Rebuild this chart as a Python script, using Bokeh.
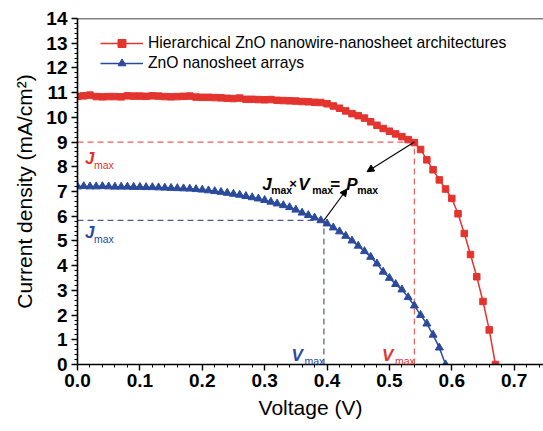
from bokeh.plotting import figure
from bokeh.models import Range1d, FixedTicker, Legend, LegendItem, Span, Label, Arrow, NormalHead, NumeralTickFormatter
from bokeh.embed import file_html
from bokeh.resources import INLINE

# ---------------- data ----------------
voltage_red = [0.00, 0.01, 0.02, 0.03, 0.04, 0.05, 0.06, 0.07, 0.08, 0.09,
               0.10, 0.11, 0.12, 0.13, 0.14, 0.15, 0.16, 0.17, 0.18, 0.19,
               0.20, 0.21, 0.22, 0.23, 0.24, 0.25, 0.26, 0.27, 0.28, 0.29,
               0.30, 0.31, 0.32, 0.33, 0.34, 0.35, 0.36, 0.37, 0.38, 0.39,
               0.40, 0.41, 0.42, 0.43, 0.44, 0.45, 0.46, 0.47, 0.48, 0.49,
               0.50, 0.51, 0.52, 0.53, 0.54, 0.55, 0.56, 0.57, 0.58, 0.59,
               0.60, 0.61, 0.62, 0.63, 0.64, 0.65, 0.66, 0.67]
current_red = [10.85, 10.87, 10.90, 10.84, 10.83, 10.84, 10.84, 10.83, 10.87, 10.86,
               10.86, 10.85, 10.87, 10.86, 10.84, 10.83, 10.84, 10.85, 10.86, 10.82,
               10.81, 10.81, 10.80, 10.79, 10.77, 10.76, 10.78, 10.73, 10.73, 10.72,
               10.71, 10.72, 10.69, 10.68, 10.67, 10.66, 10.64, 10.63, 10.61, 10.60,
               10.55, 10.46, 10.37, 10.26, 10.15, 10.07, 9.97, 9.82, 9.68, 9.55,
               9.44, 9.33, 9.22, 9.10, 8.98, 8.70, 8.28, 7.88, 7.47, 7.10,
               6.72, 6.10, 5.30, 4.45, 3.55, 2.55, 1.40, 0.00]

voltage_blue = [0.00, 0.01, 0.02, 0.03, 0.04, 0.05, 0.06, 0.07, 0.08, 0.09,
                0.10, 0.11, 0.12, 0.13, 0.14, 0.15, 0.16, 0.17, 0.18, 0.19,
                0.20, 0.21, 0.22, 0.23, 0.24, 0.25, 0.26, 0.27, 0.28, 0.29,
                0.30, 0.31, 0.32, 0.33, 0.34, 0.35, 0.36, 0.37, 0.38, 0.39,
                0.40, 0.41, 0.42, 0.43, 0.44, 0.45, 0.46, 0.47, 0.48, 0.49,
                0.50, 0.51, 0.52, 0.53, 0.54, 0.55, 0.56, 0.57, 0.58, 0.59]
current_blue = [7.20, 7.21, 7.20, 7.20, 7.21, 7.20, 7.19, 7.19, 7.19, 7.18,
                7.18, 7.17, 7.17, 7.16, 7.15, 7.14, 7.13, 7.12, 7.11, 7.09,
                7.07, 7.04, 7.01, 6.98, 6.94, 6.90, 6.86, 6.81, 6.76, 6.71,
                6.65, 6.58, 6.51, 6.44, 6.36, 6.26, 6.14, 6.04, 5.94, 5.83,
                5.70, 5.54, 5.38, 5.20, 5.01, 4.80, 4.58, 4.35, 4.08, 3.75,
                3.50, 3.25, 3.03, 2.72, 2.38, 2.00, 1.65, 1.20, 0.68, 0.00]

series_names = ["Hierarchical ZnO nanowire-nanosheet architectures", "ZnO nanosheet arrays"]

vmax_red, jmax_red = 0.54, 9.0
vmax_blue, jmax_blue = 0.395, 5.83

x_major_ticks = [0.0, 0.1, 0.2, 0.3, 0.4, 0.5, 0.6, 0.7]
y_major_ticks = list(range(0, 15))

RED = "#e3342f"
BLUE = "#2b4a9c"
RED_DASH = "#e8605c"
BLUE_DASH = "#4b5a94"
FONT = "Liberation Sans"

# ---------------- figure ----------------
p = figure(width=543, height=431, output_backend="svg", toolbar_location=None,
           x_range=Range1d(0, 0.747), y_range=Range1d(0, 14),
           min_border_left=77, min_border_right=0, min_border_top=18, min_border_bottom=67)
p.outline_line_color = None
p.xgrid.visible = False
p.ygrid.visible = False
p.background_fill_color = "white"
p.border_fill_color = "white"

# axes
p.xaxis.ticker = FixedTicker(ticks=x_major_ticks,
                             minor_ticks=[i * 0.02 for i in range(0, 38)])
p.xaxis.formatter = NumeralTickFormatter(format="0.0")
p.yaxis.ticker = FixedTicker(ticks=y_major_ticks,
                             minor_ticks=[i * 0.2 for i in range(0, 71)])
for ax in (p.xaxis, p.yaxis):
    ax.axis_line_width = 1.6
    ax.axis_line_color = "black"
    ax.major_tick_line_width = 1.4
    ax.minor_tick_line_width = 1.0
    ax.major_tick_out = 6
    ax.major_tick_in = 0
    ax.minor_tick_out = 3
    ax.minor_tick_in = 0
    ax.major_label_text_font = FONT
    ax.major_label_text_font_style = "bold"
    ax.major_label_text_font_size = "19px"
    ax.major_label_text_color = "black"
    ax.axis_label_text_font = FONT
    ax.axis_label_text_font_style = "normal"
    ax.axis_label_text_font_size = "21px"
    ax.axis_label_text_color = "black"
p.xaxis.axis_label = "Voltage (V)"
p.yaxis.axis_label = "Current density (mA/cm\u00b2)"
p.xaxis.major_label_standoff = 3
p.yaxis.major_label_standoff = 4
p.xaxis.axis_label_standoff = 6
p.yaxis.axis_label_standoff = 7

# top border line
p.add_layout(Span(location=14, dimension="width", line_color="black", line_width=1.6))

# dashed guide lines
p.line([0, vmax_red], [jmax_red, jmax_red], line_color=RED_DASH, line_dash="6 4", line_width=1.2)
p.line([vmax_red, vmax_red], [0, jmax_red], line_color=RED_DASH, line_dash="6 4", line_width=1.2)
p.line([0, vmax_blue], [jmax_blue, jmax_blue], line_color=BLUE_DASH, line_dash="6 4", line_width=1.2)
p.line([vmax_blue, vmax_blue], [0, jmax_blue], line_color=BLUE_DASH, line_dash="6 4", line_width=1.2)

# series
l1 = p.line(voltage_red, current_red, line_color=RED, line_width=1.5)
s1 = p.scatter(voltage_red, current_red, marker="square", size=6.5, fill_color=RED, line_color=RED)
l2 = p.line(voltage_blue, current_blue, line_color=BLUE, line_width=1.5)
s2 = p.scatter(voltage_blue, current_blue, marker="triangle", size=8, fill_color=BLUE, line_color=BLUE)

legend = Legend(items=[LegendItem(label=series_names[0], renderers=[l1, s1]),
                       LegendItem(label=series_names[1], renderers=[l2, s2])],
                location=(23, 291), orientation="vertical",
                glyph_width=43, glyph_height=20, label_height=20, spacing=0, padding=0,
                label_standoff=5, border_line_color=None, background_fill_alpha=0,
                label_text_font=FONT, label_text_font_size="15.7px", label_text_color="black")
p.add_layout(legend, "center")

# ---------------- annotations ----------------
def sub_label(x, y, main, color, main_size, sub_size, sub_dx, sub_dy, italic=True):
    p.add_layout(Label(x=x, y=y, text=main, text_color=color, text_font=FONT,
                       text_font_style="bold italic" if italic else "bold",
                       text_font_size=main_size, text_baseline="alphabetic", text_align="left"))
    p.add_layout(Label(x=x, y=y, x_offset=sub_dx, y_offset=sub_dy, text="max", text_color=color,
                       text_font=FONT, text_font_style="normal", text_font_size=sub_size,
                       text_baseline="alphabetic", text_align="left"))

# J_max labels near y-axis
sub_label(0.012, jmax_red - 0.66, "J", RED, "17px", "10.5px", 9, -7)
sub_label(0.012, jmax_blue - 0.47, "J", BLUE, "17px", "10.5px", 9, -7)
# V_max labels near x-axis
sub_label(vmax_blue - 0.052, 0.36, "V", BLUE, "17px", "10.5px", 13, -5)
sub_label(vmax_red - 0.052, 0.36, "V", RED, "17px", "10.5px", 13, -5)

# J_max x V_max = P_max
eq_x, eq_y = 0.296, 7.29
p.add_layout(Label(x=eq_x, y=eq_y, text="J", text_color="black", text_font=FONT,
                   text_font_style="bold italic", text_font_size="17px", text_baseline="alphabetic"))
p.add_layout(Label(x=eq_x, y=eq_y, x_offset=9, y_offset=-6, text="max", text_color="black",
                   text_font=FONT, text_font_style="bold", text_font_size="10.5px", text_baseline="alphabetic"))
p.add_layout(Label(x=eq_x, y=eq_y, x_offset=27, y_offset=1, text="\u00d7", text_color="black",
                   text_font=FONT, text_font_style="bold", text_font_size="13px", text_baseline="alphabetic"))
p.add_layout(Label(x=eq_x, y=eq_y, x_offset=36, text="V", text_color="black", text_font=FONT,
                   text_font_style="bold italic", text_font_size="17px", text_baseline="alphabetic"))
p.add_layout(Label(x=eq_x, y=eq_y, x_offset=50, y_offset=-6, text="max", text_color="black",
                   text_font=FONT, text_font_style="bold", text_font_size="10.5px", text_baseline="alphabetic"))
p.add_layout(Label(x=eq_x, y=eq_y, x_offset=68, text="=", text_color="black", text_font=FONT,
                   text_font_style="bold", text_font_size="17px", text_baseline="alphabetic"))
p.add_layout(Label(x=eq_x, y=eq_y, x_offset=84, text="P", text_color="black", text_font=FONT,
                   text_font_style="bold italic", text_font_size="17px", text_baseline="alphabetic"))
p.add_layout(Label(x=eq_x, y=eq_y, x_offset=95, y_offset=-6, text="max", text_color="black",
                   text_font=FONT, text_font_style="bold", text_font_size="10.5px", text_baseline="alphabetic"))

# arrows from the maximum power points to the equation
p.add_layout(Arrow(end=NormalHead(size=7, fill_color="black", line_color="black"),
                   x_start=vmax_red, y_start=jmax_red, x_end=0.464, y_end=7.8,
                   line_color="black", line_width=1.1))
p.add_layout(Arrow(end=NormalHead(size=7, fill_color="black", line_color="black"),
                   x_start=vmax_blue, y_start=jmax_blue, x_end=0.432, y_end=7.1,
                   line_color="black", line_width=1.1))

open("out.html", "w").write(file_html(p, INLINE))
